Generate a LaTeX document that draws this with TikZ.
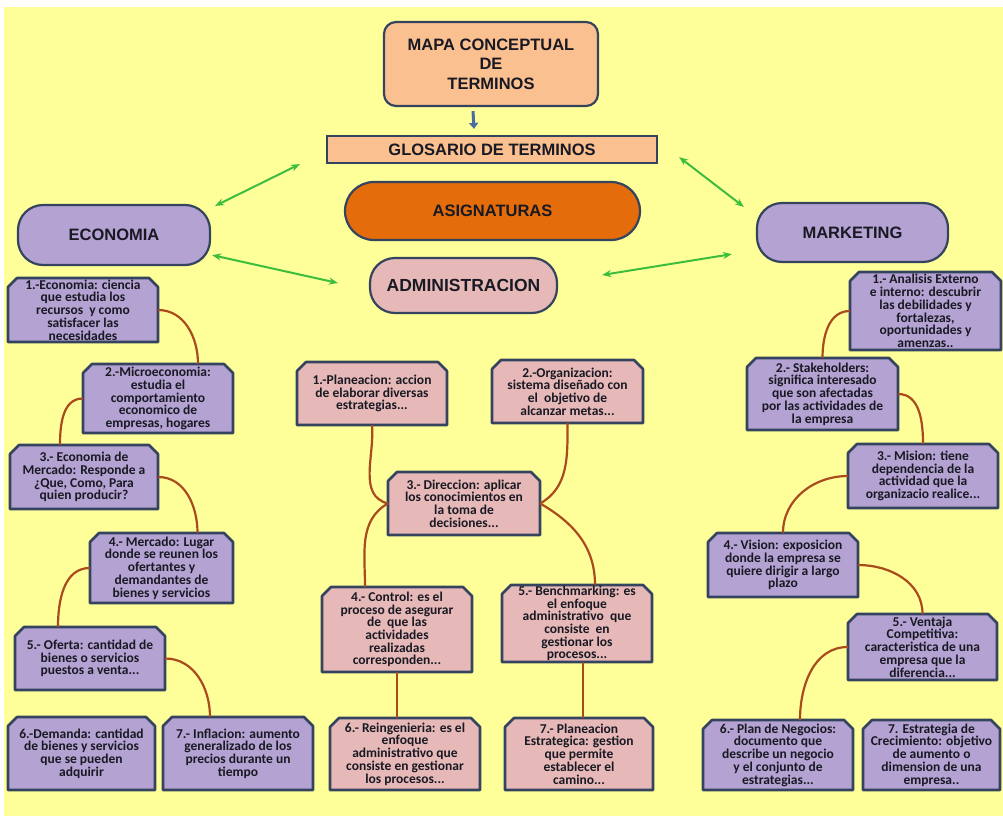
\documentclass[tikz,border=0pt]{standalone}
\usepackage{fontspec}
\setmainfont{Liberation Sans}
\newfontfamily\boxfont{Carlito}
\usetikzlibrary{arrows.meta,calc}

\definecolor{bg}{RGB}{255,255,153}
\definecolor{lav}{RGB}{179,162,210}
\definecolor{pinkb}{RGB}{230,185,184}
\definecolor{peach}{RGB}{250,192,144}
\definecolor{orng}{RGB}{228,108,10}
\definecolor{edge}{RGB}{52,68,94}
\definecolor{brn}{RGB}{170,75,30}
\definecolor{grn}{RGB}{60,190,60}
\definecolor{blu}{RGB}{74,110,160}
\definecolor{ink}{RGB}{25,25,35}

\tikzset{
  detail/.style={font=\boxfont\bfseries\fontsize{13.5}{12.7}\selectfont, align=center, text=ink, inner sep=0pt},
  bigbox/.style={draw=edge, line width=2.2pt, font=\bfseries\fontsize{16.5}{19.5}\selectfont, align=center, text=ink, inner sep=0pt},
  conn/.style={draw=brn, line width=2.2pt},
  garrow/.style={draw=grn, line width=2pt, {Stealth[length=9pt,width=7pt]}-{Stealth[length=9pt,width=7pt]}},
}

\newcommand\cbox[7]{%
  \fill[#2, draw=edge, line width=2.6pt, line join=round] ({#3+9},#4) -- ({#5-9},#4) -- (#5,{#4+9}) -- (#5,#6) -- (#3,#6) -- (#3,{#4+9}) -- cycle;
  \node[detail, minimum width={#5-#3}, minimum height={#6-#4}] (#1) at ({(#3+#5)/2},{(#4+#6)/2}) {#7};
}

\begin{document}
\begin{tikzpicture}[x=1pt,y=-1pt]
\useasboundingbox (0,0) rectangle (1003,816);
\fill[white] (0,0) rectangle (1003,816);
\fill[bg] (4,7) rectangle (1003,816);

% main nodes
\node[bigbox, fill=peach, rounded corners=12pt, minimum width=214, minimum height=84] (mapa) at (491,64) {MAPA CONCEPTUAL\\DE\\TERMINOS};
\node[bigbox, fill=peach, minimum width=330, minimum height=27] (glos) at (492,149.5) {GLOSARIO DE TERMINOS};
\node[bigbox, fill=orng, rounded corners=29pt, minimum width=295, minimum height=58] (asig) at (492.5,211) {ASIGNATURAS};
\node[bigbox, fill=lav, rounded corners=25pt, minimum width=192, minimum height=60] (eco) at (114,235) {ECONOMIA};
\node[bigbox, fill=lav, rounded corners=25pt, minimum width=191, minimum height=59] (mkt) at (852.5,232.5) {MARKETING};
\node[bigbox, fill=pinkb, rounded corners=25pt, minimum width=187, minimum height=55, font=\bfseries\fontsize{17.5}{20}\selectfont] (adm) at (463.5,285.5) {ADMINISTRACION};

\draw[blu, line width=3pt, -{Triangle[length=6pt,width=9pt]}] ([shift={(-18,4)}]mapa.south) -- ([shift={(-18,-6)}]glos.north);

\draw[garrow] ([shift={(4,2)}]eco.north east) -- ([shift={(-26,0)}]glos.south west);
\draw[garrow] ([shift={(21,-7)}]glos.south east) -- ([shift={(-12,5)}]mkt.north west);
\draw[garrow] ([shift={(1,-11)}]eco.south east) -- ([shift={(-31,-2.5)}]adm.west);
\draw[garrow] ([shift={(44,-10.5)}]adm.east) -- ([shift={(-24,-9)}]mkt.south west);

% Economia
\cbox{e1}{lav}{8}{278}{158}{342}{1.-Economia: ciencia\\que estudia los\\recursos \ y como\\satisfacer las\\necesidades}
\cbox{e2}{lav}{83}{364}{233}{433}{2.-Microeconomia:\\estudia el\\comportamiento\\economico de\\empresas, hogares}
\cbox{e3}{lav}{10}{445}{158}{509}{3.- Economia de\\Mercado: Responde a\\¿Que, Como, Para\\quien producir?}
\cbox{e4}{lav}{90}{533}{233}{603}{4.- Mercado: Lugar\\donde se reunen los\\ofertantes y\\demandantes de\\bienes y servicios}
\cbox{e5}{lav}{15}{627}{165}{690}{5.- Oferta: cantidad de\\bienes o servicios\\puestos a venta...}
\cbox{e6}{lav}{8}{717}{155}{790}{6.-Demanda: cantidad\\de bienes y servicios\\que se pueden\\adquirir}
\cbox{e7}{lav}{163}{717}{313}{790}{7.- Inflacion: aumento\\generalizado de los\\precios durante un\\tiempo}

% Administracion
\cbox{a1}{pinkb}{297}{362}{447}{425}{1.-Planeacion: accion\\de elaborar diversas\\estrategias...}
\cbox{a2}{pinkb}{492}{360}{643}{423}{2.-Organizacion:\\sistema diseñado con\\el \ objetivo de\\alcanzar metas...}
\cbox{a3}{pinkb}{388}{472}{540}{535}{3.- Direccion: aplicar\\los conocimientos en\\la toma de\\decisiones...}
\cbox{a4}{pinkb}{322}{587}{472}{672}{4.- Control: es el\\proceso de asegurar\\de \ que las\\actividades\\realizadas\\corresponden...}
\cbox{a5}{pinkb}{502}{585}{652}{662}{5.- Benchmarking: es\\el enfoque\\administrativo \ que\\consiste \ en\\gestionar los\\procesos...}
\cbox{a6}{pinkb}{330}{718}{480}{790}{6.- Reingenieria: es el\\enfoque\\administrativo que\\consiste en gestionar\\los procesos...}
\cbox{a7}{pinkb}{505}{718}{653}{790}{7.- Planeacion\\Estrategica: gestion\\que permite\\establecer el\\camino...}

% Marketing
\cbox{m1}{lav}{850}{272}{1001}{350}{1.- Analisis Externo\\e interno: descubrir\\las debilidades y\\fortalezas,\\oportunidades y\\amenzas..}
\cbox{m2}{lav}{747}{358}{898}{430}{2.- Stakeholders:\\significa interesado\\que son afectadas\\por las actividades de\\la empresa}
\cbox{m3}{lav}{848}{444}{998}{508}{3.- Mision: tiene\\dependencia de la\\actividad que la\\organizacio realice...}
\cbox{m4}{lav}{708}{533}{858}{597}{4.- Vision: exposicion\\donde la empresa se\\quiere dirigir a largo\\plazo}
\cbox{m5}{lav}{848}{614}{997}{680}{5.- Ventaja\\Competitiva:\\caracteristica de una\\empresa que la\\diferencia...}
\cbox{m6}{lav}{703}{720}{853}{790}{6.- Plan de Negocios:\\documento que\\describe un negocio\\y el conjunto de\\estrategias...}
\cbox{m7}{lav}{863}{720}{1000}{790}{7. Estrategia de\\Crecimiento: objetivo\\de aumento o\\dimension de una\\empresa..}

% connectors
\draw[conn] (e1.east) to[out=0,in=90] ([xshift=40pt]e2.north);
\draw[conn] (e2.west) to[out=180,in=90] ([xshift=-24pt]e3.north);
\draw[conn] (e3.east) to[out=0,in=90] ([xshift=36pt]e4.north);
\draw[conn] (e4.west) to[out=180,in=90] ([xshift=-32pt]e5.north);
\draw[conn] (e5.east) to[out=0,in=90] ([xshift=-28pt]e7.north);

\draw[conn] (a1.south) to[out=-85,in=165] (a3.west);
\draw[conn] (a3.west) to[out=-150,in=90] ([xshift=-32pt]a4.north);
\draw[conn] (a2.south) to[out=-90,in=30] (a3.east);
\draw[conn] (a3.east) to[out=-30,in=90] ([xshift=18pt]a5.north);
\draw[conn] (a4.south) -- (a4.south |- a6.north);
\draw[conn] ([xshift=6pt]a5.south) -- ([xshift=6pt]a5.south |- a7.north);

\draw[conn] (m1.west) to[out=180,in=90] (m2.north);
\draw[conn] (m2.east) to[out=0,in=90] (m3.north);
\draw[conn] (m3.west) to[out=180,in=90] (m4.north);
\draw[conn] (m4.east) to[out=0,in=90] (m5.north);
\draw[conn] (m5.west) to[out=180,in=90] ([xshift=22pt]m6.north);
\end{tikzpicture}
\end{document}
